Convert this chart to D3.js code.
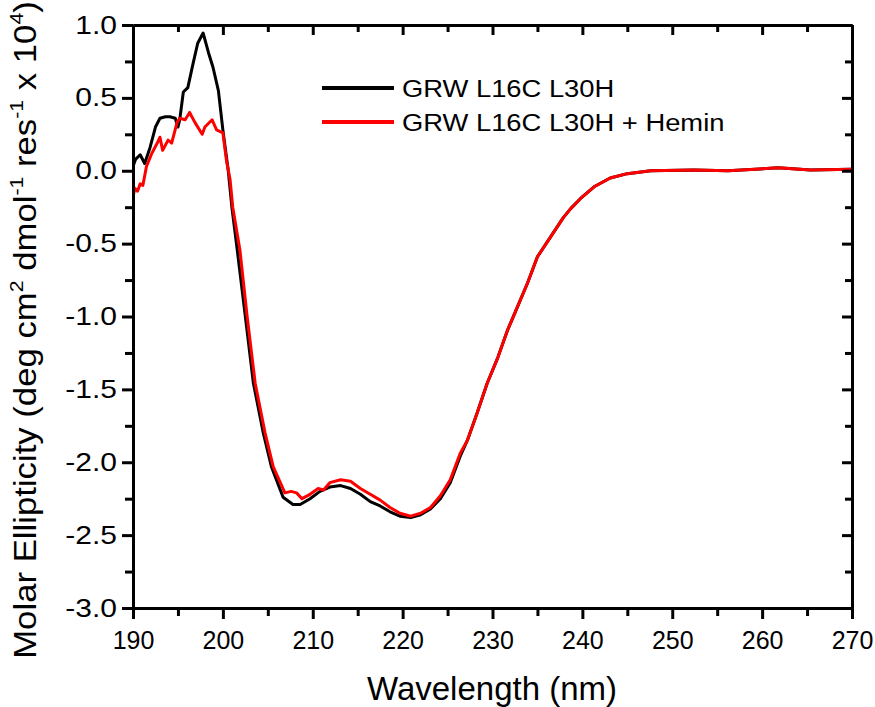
<!DOCTYPE html>
<html><head><meta charset="utf-8">
<script src="https://cdn.jsdelivr.net/npm/d3@7"></script>
<style>
body{margin:0;background:#fff}
text{font-family:"Liberation Sans",Arial,sans-serif;fill:#000}
</style></head>
<body><svg id="chart" width="875" height="707"></svg>
<script>
// ---- data ----
const wlBlack = [190.0,190.3,190.8,191.3,191.9,192.5,193.0,193.6,194.1,194.7,195.0,195.2,195.6,196.1,196.7,197.2,197.8,198.4,198.9,199.5,200.0,200.6,201.0,201.6,202.5,203.4,204.5,205.4,206.7,207.8,208.6,209.7,210.8,211.9,213.1,214.2,215.3,216.4,217.5,218.6,219.7,220.9,222.0,223.1,224.2,225.3,226.4,227.2,228.3,229.4,230.6,231.7,232.8,233.9,235.0,236.5,237.9,238.7,239.8,241.3,243.1,245.0,247.6,252.4,256.2,261.8,265.4,269.9,270.0];
const valBlack = [0.03,0.08,0.11,0.05,0.16,0.30,0.36,0.37,0.37,0.36,0.30,0.35,0.54,0.57,0.74,0.875,0.945,0.81,0.71,0.55,0.28,0.00,-0.25,-0.545,-1.0,-1.46,-1.80,-2.03,-2.24,-2.29,-2.29,-2.25,-2.20,-2.17,-2.16,-2.18,-2.22,-2.27,-2.30,-2.34,-2.37,-2.38,-2.36,-2.32,-2.25,-2.14,-1.96,-1.85,-1.66,-1.46,-1.28,-1.09,-0.93,-0.77,-0.59,-0.45,-0.32,-0.26,-0.19,-0.11,-0.05,-0.02,0.00,0.005,0.0,0.02,0.005,0.01,0.01];
const wlRed = [190.0,190.2,190.5,190.8,191.1,191.5,192.1,192.7,193.0,193.3,193.9,194.3,194.9,195.2,195.8,196.3,196.9,197.7,198.0,198.8,199.3,200.0,200.4,200.8,201.1,201.9,202.7,203.6,204.7,205.6,206.9,207.6,208.2,208.8,209.7,210.6,211.2,211.9,213.1,214.2,215.3,216.4,217.5,218.6,219.7,220.9,222.0,223.1,224.2,225.3,226.4,227.2,228.3,229.4,230.6,231.7,232.8,233.9,235.0,236.5,237.9,238.7,239.8,241.3,243.1,245.0,247.6,252.4,256.2,261.8,265.4,269.9,270.0];
const valRed = [-0.18,-0.12,-0.14,-0.09,-0.10,0.03,0.12,0.19,0.23,0.14,0.21,0.19,0.33,0.36,0.35,0.40,0.33,0.25,0.30,0.35,0.28,0.26,0.07,-0.06,-0.25,-0.545,-1.0,-1.46,-1.80,-2.03,-2.21,-2.20,-2.21,-2.25,-2.22,-2.18,-2.19,-2.14,-2.12,-2.13,-2.18,-2.22,-2.26,-2.31,-2.35,-2.37,-2.35,-2.31,-2.23,-2.12,-1.94,-1.85,-1.66,-1.46,-1.28,-1.09,-0.93,-0.77,-0.59,-0.45,-0.32,-0.26,-0.19,-0.11,-0.05,-0.02,0.00,0.005,0.0,0.02,0.005,0.01,0.01];
const xTicks = [190,200,210,220,230,240,250,260,270];
const xMinorTicks = [195,205,215,225,235,245,255,265];
const yTicks = [1.0,0.5,0.0,-0.5,-1.0,-1.5,-2.0,-2.5,-3.0];
const yMinorTicks = [0.75,0.25,-0.25,-0.75,-1.25,-1.75,-2.25,-2.75];
const seriesNames = ["GRW L16C L30H","GRW L16C L30H + Hemin"];
const seriesColors = ["#000000","#ff0000"];

// ---- layout ----
const svg = d3.select("#chart");
const L = 133, R = 852, T = 25, B = 608;
const x = d3.scaleLinear().domain([190,270]).range([L,R]);
const y = d3.scaleLinear().domain([-3,1]).range([B,T]);

const series = [
  {name: seriesNames[0], color: seriesColors[0], data: wlBlack.map((w,i)=>[w,valBlack[i]])},
  {name: seriesNames[1], color: seriesColors[1], data: wlRed.map((w,i)=>[w,valRed[i]])}
];

const line = d3.line().x(d=>x(d[0])).y(d=>y(d[1])).curve(d3.curveLinear);
const plot = svg.append("g");
plot.append("defs").append("clipPath").attr("id","clip")
  .append("rect").attr("x",L).attr("y",T).attr("width",R-L).attr("height",B-T);
series.forEach(s=>{
  plot.append("path").datum(s.data).attr("d",line)
    .attr("fill","none").attr("stroke",s.color).attr("stroke-width",3)
    .attr("stroke-linejoin","round").attr("stroke-linecap","round")
    .attr("clip-path","url(#clip)");
});

function styleAxis(g){
  g.select(".domain").attr("stroke","#000").attr("stroke-width",3);
  g.selectAll(".tick line").attr("stroke","#000").attr("stroke-width",3);
}
const tickFont = 25;
const fmtY = v => d3.format(".1f")(v).replace("\u2212","-");
// bottom
const gB = svg.append("g").attr("transform",`translate(0,${B})`)
  .call(d3.axisBottom(x).tickValues(xTicks).tickFormat(d3.format("d")).tickSize(11).tickSizeOuter(0).tickPadding(12));
svg.append("g").attr("transform",`translate(0,${B})`)
  .call(d3.axisBottom(x).tickValues(xMinorTicks).tickFormat("").tickSize(8).tickSizeOuter(0)).call(styleAxis);
styleAxis(gB);
gB.selectAll("text").attr("font-size",tickFont).attr("font-family","Liberation Sans, Arial, sans-serif");
// left
const gL = svg.append("g").attr("transform",`translate(${L},0)`)
  .call(d3.axisLeft(y).tickValues(yTicks).tickFormat(fmtY).tickSize(11).tickSizeOuter(0));
svg.append("g").attr("transform",`translate(${L},0)`)
  .call(d3.axisLeft(y).tickValues(yMinorTicks).tickFormat("").tickSize(8).tickSizeOuter(0)).call(styleAxis);
styleAxis(gL);
gL.selectAll("text").attr("font-size",tickFont).attr("font-family","Liberation Sans, Arial, sans-serif")
  .attr("x",-16/1.2).attr("transform","scale(1.2,1)");
// top & right (inward ticks)
svg.append("g").attr("transform",`translate(0,${T})`)
  .call(d3.axisTop(x).tickValues(xTicks).tickFormat("").tickSize(-10).tickSizeOuter(0)).call(styleAxis);
svg.append("g").attr("transform",`translate(0,${T})`)
  .call(d3.axisTop(x).tickValues(xMinorTicks).tickFormat("").tickSize(-7).tickSizeOuter(0)).call(styleAxis);
svg.append("g").attr("transform",`translate(${R},0)`)
  .call(d3.axisRight(y).tickValues(yTicks).tickFormat("").tickSize(-10).tickSizeOuter(0)).call(styleAxis);
svg.append("g").attr("transform",`translate(${R},0)`)
  .call(d3.axisRight(y).tickValues(yMinorTicks).tickFormat("").tickSize(-7).tickSizeOuter(0)).call(styleAxis);

// axis titles
svg.append("text").attr("x",492).attr("y",700).attr("text-anchor","middle")
  .attr("font-size",33).text("Wavelength (nm)");

const yl = svg.append("text").attr("transform",`translate(36,330) rotate(-90) scale(1.12,1)`)
  .attr("text-anchor","middle").attr("font-size",31);
const parts = [["Molar Ellipticity (deg cm",0],["2",1],[" dmol",0],["-1",1],[" res",0],["-1",1],[" x 10",0],["4",1],[")",0]];
parts.forEach((p,i)=>{
  const t = yl.append("tspan").text(p[0]);
  if(p[1]) t.attr("font-size",19).attr("dy",-13);
  else if(i>0) t.attr("dy",13);
});

// legend
const leg = svg.append("g");
series.forEach((s,i)=>{
  const ly = 88 + i*34;
  leg.append("line").attr("x1",322).attr("x2",394).attr("y1",ly).attr("y2",ly)
    .attr("stroke",s.color).attr("stroke-width",4);
  leg.append("text").attr("transform",`translate(402,${ly+9}) scale(1.14,1)`)
    .attr("font-size",24).text(s.name);
});
</script></body></html>
